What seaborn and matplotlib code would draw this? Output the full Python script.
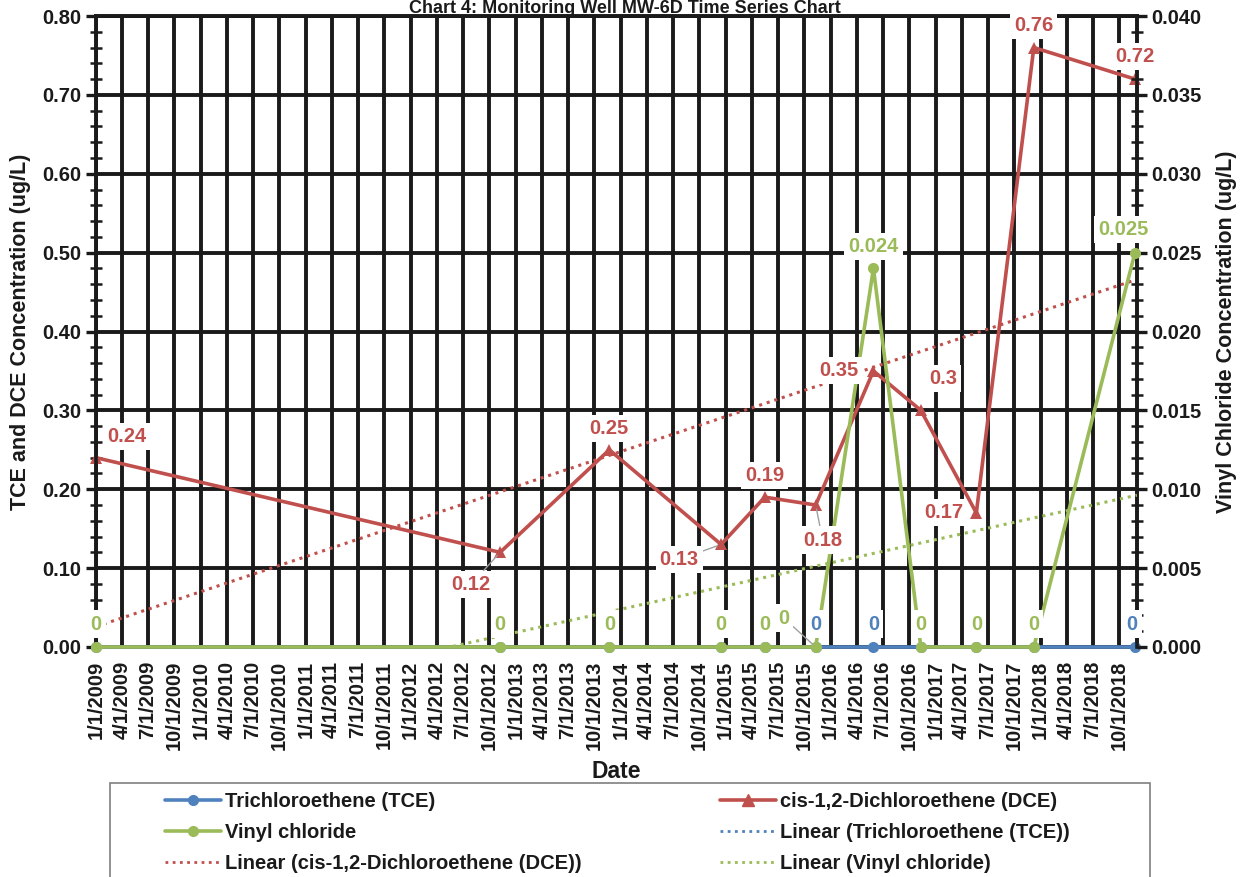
import numpy as np
import pandas as pd
import matplotlib
matplotlib.use("Agg")
import matplotlib.pyplot as plt
import matplotlib.dates as mdates
from matplotlib.lines import Line2D
from matplotlib.patches import Rectangle
from matplotlib.ticker import MultipleLocator, FormatStrFormatter, FuncFormatter
import seaborn as sns

# sample data
sample_dates = ["2009-01-01", "2012-11-07", "2013-11-22", "2014-12-16", "2015-05-17",
                "2015-11-10", "2016-05-29", "2016-11-10", "2017-05-22", "2017-12-08",
                "2018-11-25"]
tce = [0, 0, 0, 0, 0, 0, 0, 0, 0, 0, 0]
dce = [0.24, 0.12, 0.25, 0.13, 0.19, 0.18, 0.35, 0.30, 0.17, 0.76, 0.72]
vc = [0, 0, 0, 0, 0, 0, 0.024, 0, 0, 0, 0.025]
dce_text = ["0.24", "0.12", "0.25", "0.13", "0.19", "0.18", "0.35", "0.3", "0.17", "0.76", "0.72"]
vc_text = ["0", "0", "0", "0", "0", "0", "0.024", "0", "0", "0", "0.025"]
tce_text = ["0"] * 11

x_start, x_end = "2009-01-01", "2018-12-02"

BLUE, RED, GREEN = "#4F81BD", "#C0504D", "#9BBB59"
INK = "#1a1a1a"

df = pd.DataFrame({"date": pd.to_datetime(sample_dates), "tce": tce, "dce": dce, "vc": vc})

sns.set_style("white")
plt.rcParams["font.family"] = ["Liberation Sans", "DejaVu Sans"]
plt.rcParams["font.weight"] = "bold"

fig = plt.figure(figsize=(12.43, 8.77), dpi=100)
ax = fig.add_axes([96 / 1243, 1 - 647 / 877, (1137 - 96) / 1243, (647 - 16) / 877])
ax2 = ax.twinx()

# trend lines (least squares on the data, over the full axis span)
xs = mdates.date2num(df["date"])
span = pd.to_datetime([x_start, x_end])
span_num = mdates.date2num(span)
dot = (0, (1, 1.6))
for col, a, c in [("tce", ax, BLUE), ("dce", ax, RED), ("vc", ax2, GREEN)]:
    k, b = np.polyfit(xs, df[col], 1)
    trend = pd.DataFrame({"date": span, "y": k * span_num + b})
    sns.lineplot(data=trend, x="date", y="y", ax=a, color=c, lw=2.2,
                 linestyle=dot, zorder=3)

sns.lineplot(data=df, x="date", y="tce", ax=ax, color=BLUE, lw=2.6, marker="o",
             markersize=8, markeredgewidth=0, zorder=4)
ax.lines[-1].set_clip_on(False)
sns.lineplot(data=df, x="date", y="dce", ax=ax, color=RED, lw=2.6, marker="^",
             markersize=9, markeredgewidth=0, zorder=4)
ax.lines[-1].set_clip_on(False)
sns.lineplot(data=df, x="date", y="vc", ax=ax2, color=GREEN, lw=2.6, marker="o",
             markersize=8, markeredgewidth=0, zorder=4)
ax2.lines[-1].set_clip_on(False)

ax.set_xlim(span[0], span[1])
ax.set_ylim(0, 0.8)
ax2.set_ylim(0, 0.04)

# axes styling
ax.xaxis.set_major_locator(mdates.MonthLocator(bymonth=[1, 4, 7, 10]))
ax.xaxis.set_minor_locator(mdates.MonthLocator())
ax.xaxis.set_major_formatter(FuncFormatter(
    lambda v, p: (lambda d: f"{d.month}/{d.day}/{d.year}")(mdates.num2date(v))))
ax.yaxis.set_major_locator(MultipleLocator(0.1))
ax.yaxis.set_minor_locator(MultipleLocator(0.02))
ax.yaxis.set_major_formatter(FormatStrFormatter("%.2f"))
ax2.yaxis.set_major_locator(MultipleLocator(0.005))
ax2.yaxis.set_minor_locator(MultipleLocator(0.001))
ax2.yaxis.set_major_formatter(FormatStrFormatter("%.3f"))

ax.grid(which="major", color=INK, lw=2.8)
ax.set_axisbelow(True)
for a in (ax, ax2):
    for s in a.spines.values():
        s.set_color(INK)
        s.set_linewidth(2.6)
ax2.spines["bottom"].set_visible(False)
ax.tick_params(axis="x", which="major", labelsize=14.5, rotation=90, length=7, width=2.4,
               direction="out", color=INK, labelcolor=INK, pad=3)
ax.tick_params(axis="x", which="minor", length=8, width=1.8, direction="inout", color=INK)
for a in (ax, ax2):
    a.tick_params(axis="y", which="major", labelsize=14.5, length=7, width=2.4,
                  direction="out", color=INK, labelcolor=INK)
    a.tick_params(axis="y", which="minor", length=8, width=1.8, direction="inout", color=INK)
for lab in ax.get_xticklabels() + ax.get_yticklabels() + ax2.get_yticklabels():
    lab.set_fontweight("bold")

ax.set_xlabel("Date", fontsize=16.5, fontweight="bold", labelpad=7, color=INK)
ax.set_ylabel("TCE and DCE Concentration (ug/L)", fontsize=15.5, fontweight="bold",
              labelpad=8, color=INK)
ax2.set_ylabel("Vinyl Chloride Concentration (ug/L)", fontsize=15.5, fontweight="bold",
               labelpad=10, color=INK)

fig.text(625 / 1243, 1 - 13 / 877, "Chart 4: Monitoring Well MW-6D Time Series Chart",
         ha="center", va="baseline", fontsize=13, fontweight="bold", color=INK)

# data labels (offsets in pixels, with leader lines where Excel moved them)
dce_off = [(31, 21), (-29, -32), (0, 21), (-42, -15), (0, 22), (7, -35),
           (-35, 0), (22, 32), (-33, 0), (0, 22), (0, 23)]
vc_off = [(0, 23)] * 5 + [(-32, 29), (0, 22), (0, 23), (0, 23), (0, 23), (-12, 23)]
tce_off = [(0, 23)] * 10 + [(-3, 23)]
lead = {("dce", 1), ("dce", 3), ("dce", 5), ("vc", 5)}


def put_labels(name, values, texts, offsets, color):
    for i, (d, v, t, o) in enumerate(zip(df["date"], values, texts, offsets)):
        kw = {}
        if (name, i) in lead:
            kw["arrowprops"] = dict(arrowstyle="-", color="#a0a0a0", lw=1,
                                    shrinkA=0, shrinkB=3)
        ax2.annotate(t, xy=(mdates.date2num(d), v), xycoords=ax.transData,
                     xytext=o, textcoords="offset pixels", ha="center", va="center",
                     fontsize=14.5, fontweight="bold", color=color, zorder=10,
                     annotation_clip=False,
                     bbox=dict(boxstyle="square,pad=0.2", fc="white", ec="none"), **kw)


put_labels("tce", df["tce"], tce_text, tce_off, BLUE)
put_labels("dce", df["dce"], dce_text, dce_off, RED)
# vinyl chloride sits on the right axis, convert to left-axis units for placement
put_labels("vc", df["vc"] * 20, vc_text, vc_off, GREEN)

# legend: frame drawn separately, one legend per column
fig.patches.append(Rectangle((110 / 1243, -0.05), (1150 - 110) / 1243, 0.05 + 1 - 783 / 877,
                             transform=fig.transFigure, fill=False, ec="#7f7f7f", lw=1.2))
cols = [
    ([Line2D([], [], color=BLUE, lw=2.6, marker="o", markersize=7),
      Line2D([], [], color=GREEN, lw=2.6, marker="o", markersize=7),
      Line2D([], [], color=RED, lw=2.0, linestyle=dot)],
     ["Trichloroethene (TCE)", "Vinyl chloride", "Linear (cis-1,2-Dichloroethene (DCE))"],
     165),
    ([Line2D([], [], color=RED, lw=2.6, marker="^", markersize=8),
      Line2D([], [], color=BLUE, lw=2.0, linestyle=dot),
      Line2D([], [], color=GREEN, lw=2.0, linestyle=dot)],
     ["cis-1,2-Dichloroethene (DCE)", "Linear (Trichloroethene (TCE))", "Linear (Vinyl chloride)"],
     720),
]
for hs, ls, x0 in cols:
    leg = fig.legend(hs, ls, loc="upper left", bbox_to_anchor=(x0 / 1243, 1 - 792 / 877),
                     prop={"size": 14.5, "weight": "bold"}, handlelength=2.8,
                     handletextpad=0.2, labelspacing=0.6, borderpad=0, borderaxespad=0,
                     frameon=False)
    for t in leg.get_texts():
        t.set_color(INK)

fig.savefig("out.png", dpi=100)
